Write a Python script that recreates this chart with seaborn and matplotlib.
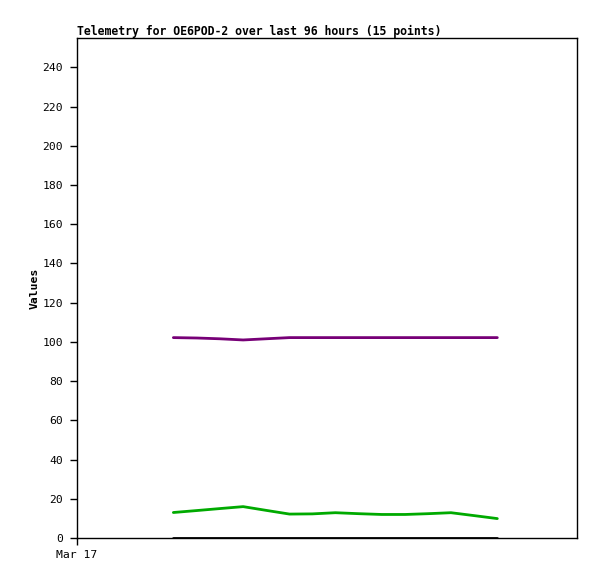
import pandas as pd
import matplotlib
matplotlib.use('Agg')
import matplotlib.pyplot as plt
import seaborn as sns

# dados
hours = [18.5, 23.0, 27.4, 31.9, 36.3, 40.8, 45.2, 49.6, 54.1, 58.5, 63.0, 67.4, 71.8, 76.3, 80.7]
purple = [102.2, 102.0, 101.6, 101.0, 101.6, 102.2, 102.2, 102.2, 102.2, 102.2, 102.2, 102.2, 102.2, 102.2, 102.2]
green = [13.0, 14.0, 15.0, 16.0, 14.1, 12.2, 12.3, 12.9, 12.4, 12.0, 12.0, 12.4, 12.9, 11.4, 9.9]
black = [0.2] * 15

series_names = ['purple', 'green', 'black']
series_colors = ['#770077', '#00aa00', '#000000']

data = pd.DataFrame({'hours': hours, 'purple': purple, 'green': green, 'black': black})
long = data.melt(id_vars='hours', var_name='serie', value_name='valor')

sns.set_style('white')
plt.rcParams['font.family'] = ['DejaVu Sans Mono']
plt.rcParams['text.color'] = 'black'
plt.rcParams['axes.labelcolor'] = 'black'
plt.rcParams['xtick.color'] = 'black'
plt.rcParams['ytick.color'] = 'black'

fig = plt.figure(figsize=(5.97, 5.79), dpi=100)
ax = fig.add_axes([77 / 597, 41 / 579, 500 / 597, 500 / 579])

sns.lineplot(data=long, x='hours', y='valor', hue='serie', hue_order=series_names,
             palette=series_colors, linewidth=2, legend=False, ax=ax)

ax.set_xlim(0, 96)
ax.set_ylim(0, 255)
ax.set_yticks(range(0, 241, 20))
ax.set_xticks([0])
ax.set_xticklabels(['Mar 17'])
ax.tick_params(axis='both', direction='out', length=5, width=1, color='black',
               labelsize=8.2, left=True, bottom=True, labelcolor='black')
ax.tick_params(axis='y', pad=5)
ax.tick_params(axis='x', pad=4)
ax.set_xlabel('')
ax.set_ylabel('Values', fontsize=8.2, fontweight='bold', labelpad=2)
for s in ax.spines.values():
    s.set_color('black')
    s.set_linewidth(1)
ax.set_title('Telemetry for OE6POD-2 over last 96 hours (15 points)',
             loc='left', fontsize=8.3, fontweight='bold', pad=2, color='black')

fig.savefig('out.png', dpi=100)
